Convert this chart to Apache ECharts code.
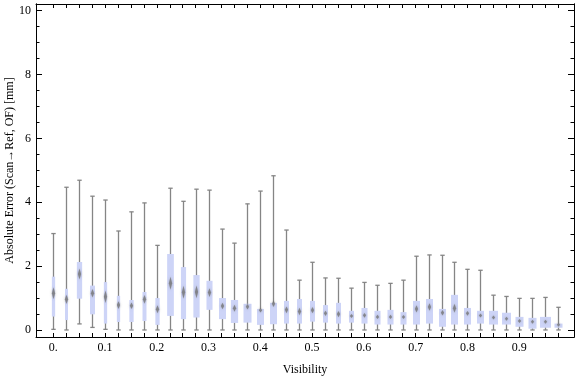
<!DOCTYPE html>
<html>
<head>
<meta charset="utf-8">
<script src="https://cdn.jsdelivr.net/npm/echarts@6/dist/echarts.min.js"></script>
<style>
  html, body { margin: 0; padding: 0; background: #fff; }
  #chart { width: 576px; height: 377px; }
</style>
</head>
<body>
<div id="chart"></div>
<script>
// visibility bins (box positions)
var visibility = [0, 0.025, 0.05, 0.075, 0.1, 0.125, 0.15, 0.175, 0.2, 0.225,
  0.25, 0.275, 0.3, 0.325, 0.35, 0.375, 0.4, 0.425, 0.45, 0.475,
  0.5, 0.525, 0.55, 0.575, 0.6, 0.625, 0.65, 0.675, 0.7, 0.725,
  0.75, 0.775, 0.8, 0.825, 0.85, 0.875, 0.9, 0.925, 0.95, 0.975];
var tickLabels = ['0.', '0.1', '0.2', '0.3', '0.4', '0.5', '0.6', '0.7', '0.8', '0.9'];
var labelValues = [0, 0.1, 0.2, 0.3, 0.4, 0.5, 0.6, 0.7, 0.8, 0.9];
var yTickValues = [0, 2, 4, 6, 8, 10];

// box-whisker stats, absolute error [mm]
var whiskerLow = [0.02, 0, 0.19, 0.08, 0.02, 0, 0, 0, 0, 0,
  0, 0, 0, 0, 0, 0, 0, 0, 0, 0,
  0, 0, 0, 0, 0, 0, 0, 0, 0, 0,
  0, 0, 0, 0, 0, 0, 0, 0, 0, 0];
var q1 = [0.42, 0.31, 0.98, 0.49, 0.20, 0.25, 0.25, 0.28, 0.16, 0.44,
  0.34, 0.39, 0.63, 0.34, 0.22, 0.23, 0.16, 0.18, 0.20, 0.20,
  0.26, 0.23, 0.20, 0.23, 0.20, 0.17, 0.17, 0.17, 0.17, 0.20,
  0.10, 0.17, 0.17, 0.20, 0.17, 0.17, 0.10, 0.04, 0.07, 0.07];
var median = [1.15, 0.96, 1.75, 1.15, 1.04, 0.78, 0.76, 0.96, 0.65, 1.46,
  1.18, 1.19, 1.17, 0.75, 0.68, 0.73, 0.62, 0.82, 0.63, 0.58,
  0.62, 0.52, 0.50, 0.44, 0.46, 0.41, 0.41, 0.41, 0.66, 0.72,
  0.54, 0.68, 0.52, 0.45, 0.39, 0.35, 0.28, 0.26, 0.26, 0.16];
var q3 = [1.67, 1.29, 2.13, 1.39, 1.50, 1.07, 0.94, 1.19, 1.00, 2.38,
  1.97, 1.72, 1.54, 1.00, 0.94, 0.82, 0.66, 0.85, 0.91, 0.97,
  0.91, 0.78, 0.85, 0.60, 0.69, 0.60, 0.63, 0.56, 0.91, 0.97,
  0.66, 1.10, 0.69, 0.60, 0.60, 0.54, 0.41, 0.38, 0.41, 0.20];
var whiskerHigh = [3.02, 4.47, 4.69, 4.19, 4.07, 3.10, 3.70, 3.98, 2.65, 4.44,
  4.03, 4.41, 4.38, 3.16, 2.72, 3.95, 4.35, 4.83, 3.13, 1.56,
  2.12, 1.63, 1.62, 1.31, 1.49, 1.40, 1.46, 1.56, 2.31, 2.35,
  2.34, 2.12, 1.90, 1.87, 1.09, 1.05, 0.99, 0.99, 1.02, 0.71];
// relative box width (sample share)
var boxShare = [0.30, 0.27, 0.48, 0.45, 0.30, 0.30, 0.39, 0.36, 0.39, 0.61,
  0.47, 0.57, 0.55, 0.64, 0.66, 0.73, 0.64, 0.64, 0.45, 0.45,
  0.45, 0.45, 0.45, 0.45, 0.55, 0.55, 0.55, 0.55, 0.64, 0.64,
  0.64, 0.64, 0.64, 0.64, 0.82, 0.82, 0.73, 0.73, 1.00, 0.73];

var chart = echarts.init(document.getElementById('chart'));

var boxData = visibility.map(function (v, i) {
  return [v, whiskerLow[i], q1[i], median[i], q3[i], whiskerHigh[i], boxShare[i]];
});

var yMinor = [];
for (var t = 0; t <= 10; t += 0.5) yMinor.push(t);

var font = { fontFamily: 'Liberation Serif', fontSize: 12, color: '#000' };
var xMin = -0.0335, xMax = 1.006;
var yMin = -0.22, yMax = 10.21;
var frameLine = { show: true, onZero: false, lineStyle: { color: '#000', width: 1 } };

function xAx(pos, labels) {
  return {
    type: 'value', position: pos, min: xMin, max: xMax,
    axisLine: frameLine,
    axisTick: { show: true, inside: true, length: 4, customValues: visibility,
      lineStyle: { color: '#000', width: 1 } },
    axisLabel: labels ? {
      show: true, margin: 5, customValues: labelValues,
      fontFamily: font.fontFamily, fontSize: font.fontSize, color: font.color,
      formatter: function (v) { return tickLabels[Math.round(v * 10)]; }
    } : { show: false },
    splitLine: { show: false }
  };
}

function yAx(pos, ticks, len, labels) {
  return {
    type: 'value', position: pos, min: yMin, max: yMax,
    axisLine: frameLine,
    axisTick: { show: true, inside: true, length: len, customValues: ticks,
      lineStyle: { color: '#000', width: 1 } },
    axisLabel: labels ? {
      show: true, margin: 5, customValues: yTickValues,
      fontFamily: font.fontFamily, fontSize: font.fontSize, color: font.color
    } : { show: false },
    splitLine: { show: false }
  };
}

var xBottom = xAx('bottom', true);
xBottom.name = 'Visibility';
xBottom.nameLocation = 'middle';
xBottom.nameGap = 27;
xBottom.nameTextStyle = { fontFamily: 'Liberation Serif', fontSize: 12, color: '#000' };

var yLeft = yAx('left', yTickValues, 6, true);
yLeft.name = 'Absolute Error (Scan\u2192Ref, OF) [mm]';
yLeft.nameLocation = 'middle';
yLeft.nameGap = 20;
yLeft.nameMoveOverlap = false;
yLeft.nameTextStyle = { fontFamily: 'Liberation Serif', fontSize: 12, color: '#000' };

var option = {
  animation: false,
  grid: { left: 36, right: 2, top: 4, bottom: 40, containLabel: false, outerBoundsMode: 'none' },
  xAxis: [xBottom, xAx('top', false)],
  yAxis: [
    yLeft,
    yAx('left', yMinor, 3.5, false),
    yAx('right', yTickValues, 6, false),
    yAx('right', yMinor, 3.5, false)
  ],
  series: [{
    type: 'custom',
    xAxisIndex: 0,
    yAxisIndex: 0,
    data: boxData,
    encode: { x: 0, y: [1, 2, 3, 4, 5] },
    renderItem: function (params, api) {
      var v = api.value(0);
      var x = Math.round(api.coord([v, 0])[0]) + 0.5;
      var yLo = api.coord([v, api.value(1)])[1];
      var yQ1 = api.coord([v, api.value(2)])[1];
      var yMed = api.coord([v, api.value(3)])[1];
      var yQ3 = api.coord([v, api.value(4)])[1];
      var yHi = api.coord([v, api.value(5)])[1];
      var w = api.value(6) * 11;
      var mh = Math.max(2, Math.min(6.5, (yQ1 - yQ3) * 0.15));
      var grey = '#858585';
      return {
        type: 'group',
        children: [
          { type: 'line', shape: { x1: x, y1: yHi, x2: x, y2: yLo },
            style: { stroke: grey, lineWidth: 1.3 } },
          { type: 'line', shape: { x1: x - 2.2, y1: yHi, x2: x + 2.2, y2: yHi },
            style: { stroke: grey, lineWidth: 1.3 } },
          { type: 'line', shape: { x1: x - 2.2, y1: yLo, x2: x + 2.2, y2: yLo },
            style: { stroke: grey, lineWidth: 1.3 } },
          { type: 'rect', shape: { x: x - w / 2, y: yQ3, width: w, height: yQ1 - yQ3 },
            style: { fill: '#cdd4f7' } },
          { type: 'polygon',
            shape: { points: [[x, yMed - mh], [x + 1.6, yMed], [x, yMed + mh], [x - 1.6, yMed]] },
            style: { fill: 'rgba(115,115,115,0.75)', shadowBlur: 2.5, shadowColor: 'rgba(120,120,120,0.7)' } }
        ]
      };
    }
  }]
};

chart.setOption(option);
</script>
</body>
</html>
